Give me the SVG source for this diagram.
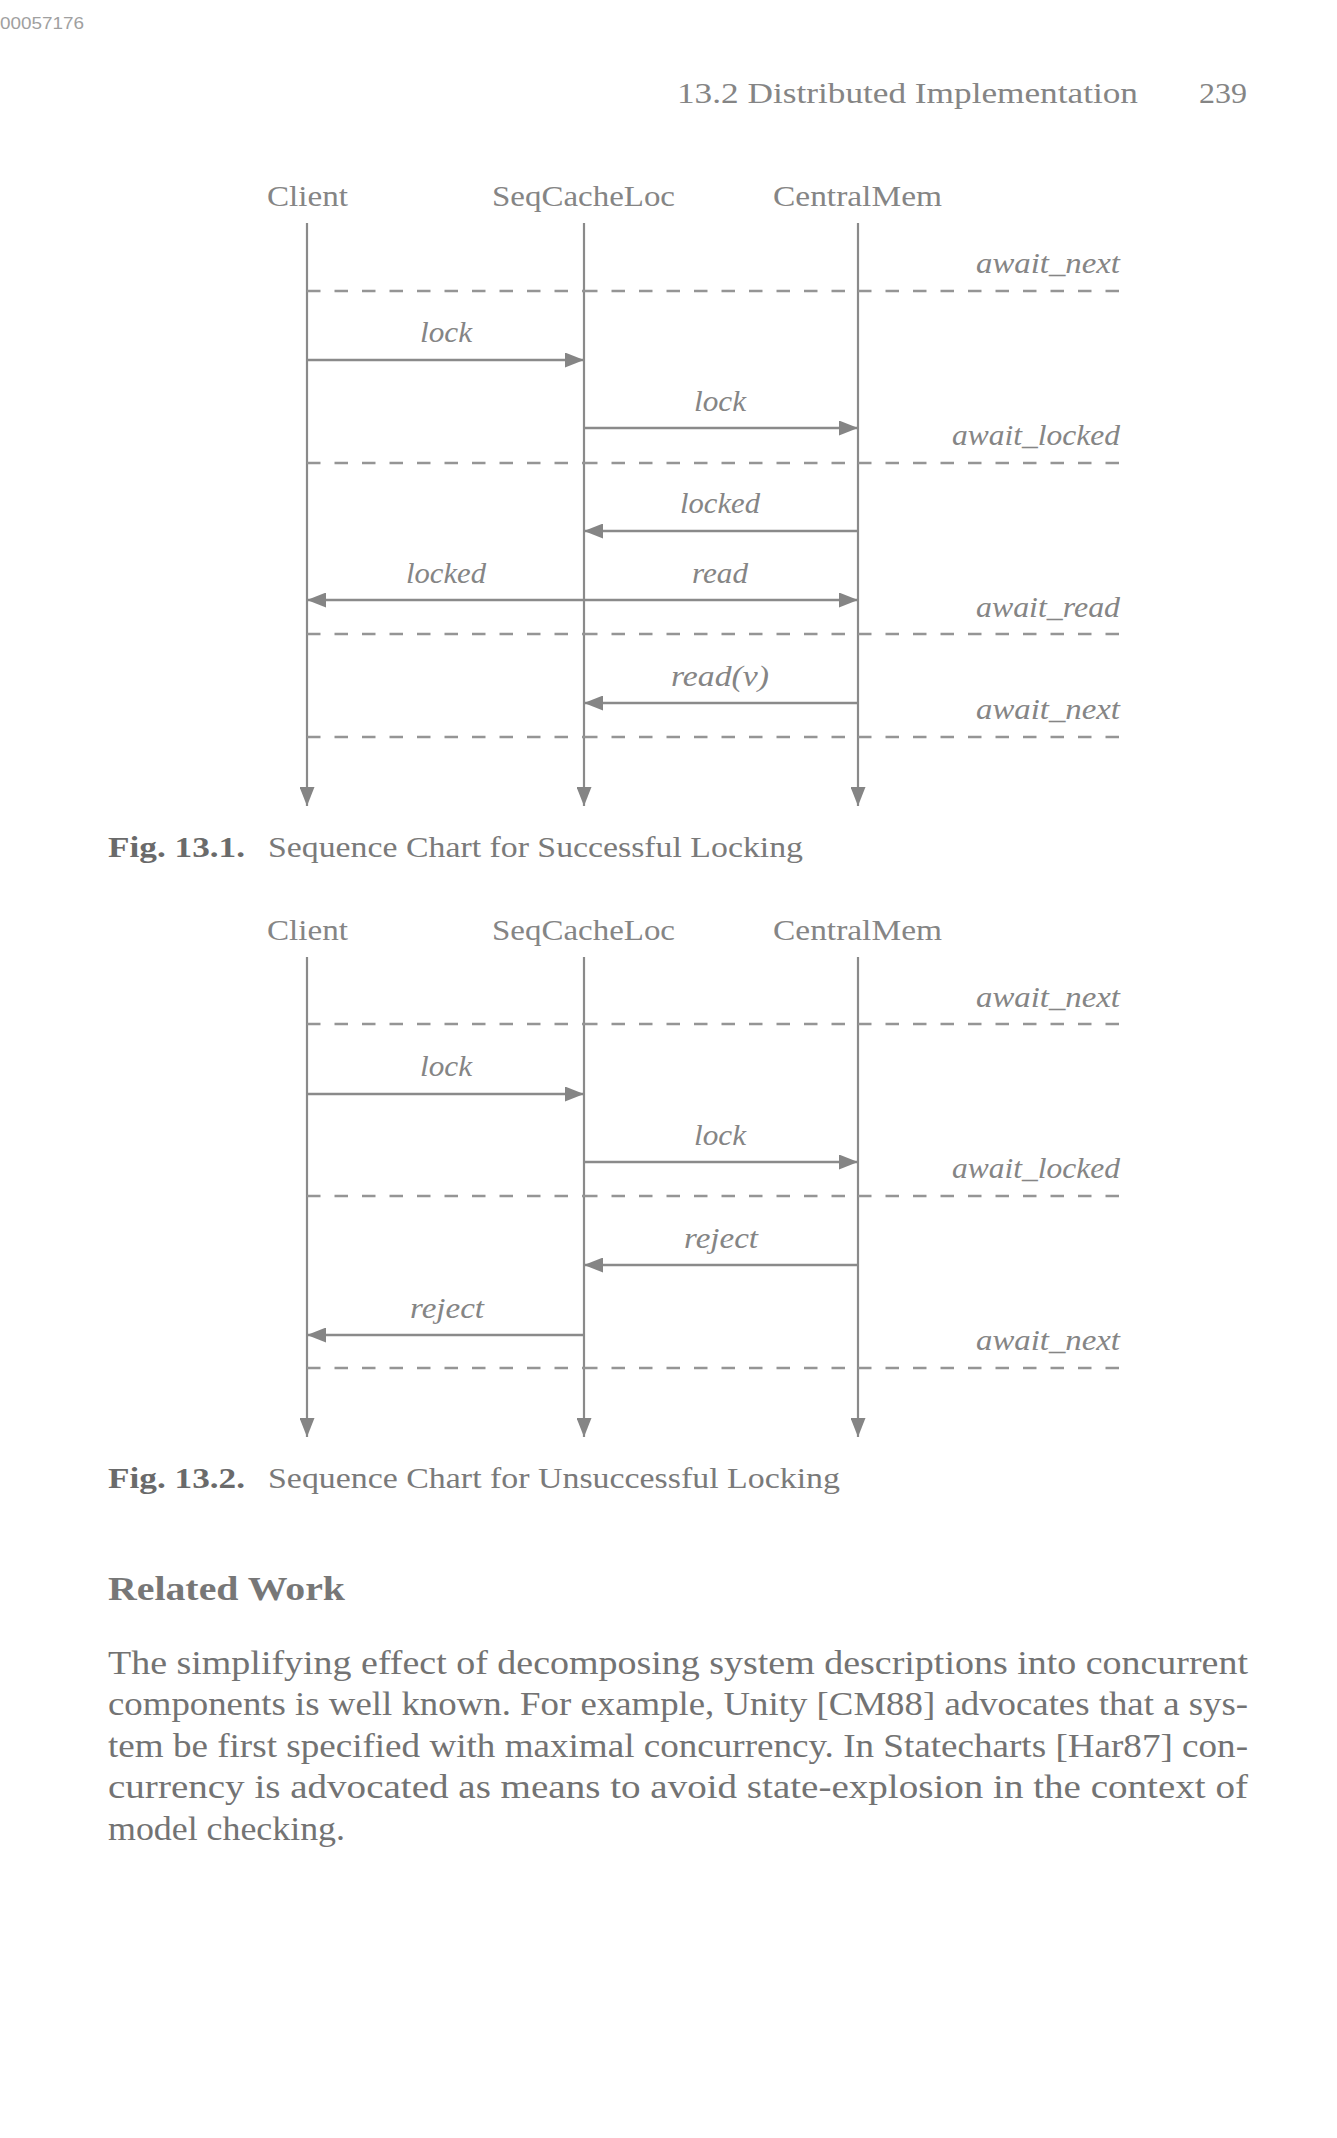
<svg xmlns="http://www.w3.org/2000/svg" width="1337" height="2138" viewBox="0 0 1337 2138">
<style>
text{font-family:"Liberation Serif","DejaVu Serif",serif;fill:#858585}
.hd{font-size:30px}
.lb{font-size:30px;font-style:italic}
.cap{font-size:29px;fill:#7a7a7a}
.capb{font-size:29px;font-weight:bold;fill:#6a6a6a}
.body{font-size:33px;fill:#737373}
.life{stroke:#8a8a8a;stroke-width:2.2;fill:none}
.msg{stroke:#8a8a8a;stroke-width:2.6;fill:none}
.dash{stroke:#959595;stroke-width:2.6;stroke-dasharray:13.5 14;fill:none}
</style>
<defs>
<marker id="ah" viewBox="0 0 19 15" refX="19" refY="7.5" markerWidth="19" markerHeight="15" markerUnits="userSpaceOnUse" orient="auto-start-reverse">
<path d="M0,0 L19,7.5 L0,15 Z" fill="#858585"/>
</marker>
</defs>
<rect width="1337" height="2138" fill="#ffffff"/>
<text x="0" y="29" style="font-family:'Liberation Sans',Arial,sans-serif;font-size:16px;fill:#a0a0a0" textLength="84" lengthAdjust="spacingAndGlyphs">00057176</text>
<text class="hd" x="677" y="103" textLength="461" lengthAdjust="spacingAndGlyphs">13.2 Distributed Implementation</text>
<text class="hd" x="1199" y="103" textLength="48" lengthAdjust="spacingAndGlyphs">239</text>

<!-- Figure 13.1 -->
<g id="fig1">
<g id="fig1-client"><text class="hd" x="267" y="206" textLength="81" lengthAdjust="spacingAndGlyphs">Client</text><line class="life" x1="307" y1="223" x2="307" y2="806" marker-end="url(#ah)"/></g>
<g id="fig1-seq"><text class="hd" x="492" y="206" textLength="183" lengthAdjust="spacingAndGlyphs">SeqCacheLoc</text><line class="life" x1="584" y1="223" x2="584" y2="806" marker-end="url(#ah)"/></g>
<g id="fig1-central"><text class="hd" x="773" y="206" textLength="169" lengthAdjust="spacingAndGlyphs">CentralMem</text><line class="life" x1="858" y1="223" x2="858" y2="806" marker-end="url(#ah)"/></g>
<g id="fig1-states">
<path class="dash" d="M307,291H584M584,291H858M858,291H1120"/>
<text class="lb" x="976" y="273" textLength="144" lengthAdjust="spacingAndGlyphs">await_next</text>
<path class="dash" d="M307,463H584M584,463H858M858,463H1120"/>
<text class="lb" x="952" y="445" textLength="168" lengthAdjust="spacingAndGlyphs">await_locked</text>
<path class="dash" d="M307,634H584M584,634H858M858,634H1120"/>
<text class="lb" x="976" y="617" textLength="144" lengthAdjust="spacingAndGlyphs">await_read</text>
<path class="dash" d="M307,737H584M584,737H858M858,737H1120"/>
<text class="lb" x="976" y="719" textLength="144" lengthAdjust="spacingAndGlyphs">await_next</text>
</g>
<g id="fig1-connectors">
<line class="msg" x1="307" y1="360" x2="584" y2="360" marker-end="url(#ah)"/>
<text class="lb" x="420" y="342" textLength="52" lengthAdjust="spacingAndGlyphs">lock</text>
<line class="msg" x1="584" y1="428" x2="858" y2="428" marker-end="url(#ah)"/>
<text class="lb" x="694" y="411" textLength="52" lengthAdjust="spacingAndGlyphs">lock</text>
<line class="msg" x1="858" y1="531" x2="584" y2="531" marker-end="url(#ah)"/>
<text class="lb" x="680" y="513" textLength="80" lengthAdjust="spacingAndGlyphs">locked</text>
<line class="msg" x1="584" y1="600" x2="307" y2="600" marker-end="url(#ah)"/>
<text class="lb" x="406" y="583" textLength="80" lengthAdjust="spacingAndGlyphs">locked</text>
<line class="msg" x1="584" y1="600" x2="858" y2="600" marker-end="url(#ah)"/>
<text class="lb" x="692" y="583" textLength="56" lengthAdjust="spacingAndGlyphs">read</text>
<line class="msg" x1="858" y1="703" x2="584" y2="703" marker-end="url(#ah)"/>
<text class="lb" x="671" y="686" textLength="98" lengthAdjust="spacingAndGlyphs">read(v)</text>
</g>
</g>
<text x="108" y="857"><tspan class="capb" textLength="137" lengthAdjust="spacingAndGlyphs">Fig. 13.1.</tspan></text>
<text class="cap" x="268" y="857" textLength="535" lengthAdjust="spacingAndGlyphs">Sequence Chart for Successful Locking</text>

<!-- Figure 13.2 -->
<g id="fig2">
<g id="fig2-client"><text class="hd" x="267" y="940" textLength="81" lengthAdjust="spacingAndGlyphs">Client</text><line class="life" x1="307" y1="957" x2="307" y2="1437" marker-end="url(#ah)"/></g>
<g id="fig2-seq"><text class="hd" x="492" y="940" textLength="183" lengthAdjust="spacingAndGlyphs">SeqCacheLoc</text><line class="life" x1="584" y1="957" x2="584" y2="1437" marker-end="url(#ah)"/></g>
<g id="fig2-central"><text class="hd" x="773" y="940" textLength="169" lengthAdjust="spacingAndGlyphs">CentralMem</text><line class="life" x1="858" y1="957" x2="858" y2="1437" marker-end="url(#ah)"/></g>
<g id="fig2-states">
<path class="dash" d="M307,1024H584M584,1024H858M858,1024H1120"/>
<text class="lb" x="976" y="1007" textLength="144" lengthAdjust="spacingAndGlyphs">await_next</text>
<path class="dash" d="M307,1196H584M584,1196H858M858,1196H1120"/>
<text class="lb" x="952" y="1178" textLength="168" lengthAdjust="spacingAndGlyphs">await_locked</text>
<path class="dash" d="M307,1368H584M584,1368H858M858,1368H1120"/>
<text class="lb" x="976" y="1350" textLength="144" lengthAdjust="spacingAndGlyphs">await_next</text>
</g>
<g id="fig2-connectors">
<line class="msg" x1="307" y1="1094" x2="584" y2="1094" marker-end="url(#ah)"/>
<text class="lb" x="420" y="1076" textLength="52" lengthAdjust="spacingAndGlyphs">lock</text>
<line class="msg" x1="584" y1="1162" x2="858" y2="1162" marker-end="url(#ah)"/>
<text class="lb" x="694" y="1145" textLength="52" lengthAdjust="spacingAndGlyphs">lock</text>
<line class="msg" x1="858" y1="1265" x2="584" y2="1265" marker-end="url(#ah)"/>
<text class="lb" x="684" y="1248" textLength="74" lengthAdjust="spacingAndGlyphs">reject</text>
<line class="msg" x1="584" y1="1335" x2="307" y2="1335" marker-end="url(#ah)"/>
<text class="lb" x="410" y="1318" textLength="74" lengthAdjust="spacingAndGlyphs">reject</text>
</g>
</g>
<text x="108" y="1488"><tspan class="capb" textLength="137" lengthAdjust="spacingAndGlyphs">Fig. 13.2.</tspan></text>
<text class="cap" x="268" y="1488" textLength="572" lengthAdjust="spacingAndGlyphs">Sequence Chart for Unsuccessful Locking</text>

<text x="108" y="1600" style="font-size:33px;font-weight:bold;fill:#777" textLength="237" lengthAdjust="spacingAndGlyphs">Related Work</text>
<text class="body" x="108" y="1674" textLength="1140" lengthAdjust="spacingAndGlyphs">The simplifying effect of decomposing system descriptions into concurrent</text>
<text class="body" x="108" y="1715" textLength="1140" lengthAdjust="spacingAndGlyphs">components is well known. For example, Unity [CM88] advocates that a sys-</text>
<text class="body" x="108" y="1757" textLength="1140" lengthAdjust="spacingAndGlyphs">tem be first specified with maximal concurrency. In Statecharts [Har87] con-</text>
<text class="body" x="108" y="1798" textLength="1140" lengthAdjust="spacingAndGlyphs">currency is advocated as means to avoid state-explosion in the context of</text>
<text class="body" x="108" y="1840" textLength="237" lengthAdjust="spacingAndGlyphs">model checking.</text>
</svg>
